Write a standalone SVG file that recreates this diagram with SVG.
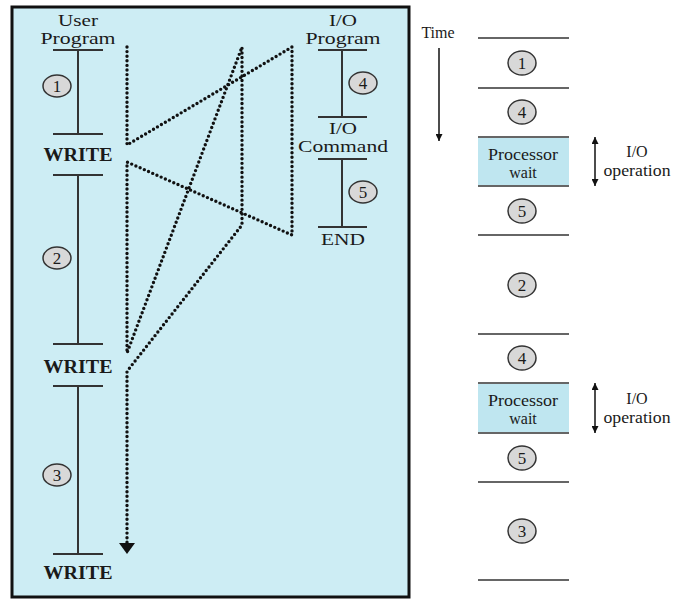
<svg xmlns="http://www.w3.org/2000/svg" width="696" height="608" viewBox="0 0 696 608" font-family="'Liberation Serif', 'Times New Roman', serif">
<defs>
<style>
text{font-family:"Liberation Serif","Times New Roman",serif;fill:#1a1a1a;text-anchor:middle}
.lbl{font-size:17px}
.lb{font-size:18px;font-weight:bold}
.num{font-size:17px}
.sm{font-size:16px}
.bar{stroke:#333;stroke-width:2;fill:none}
.rl{stroke:#666;stroke-width:2}
.dot{stroke:#111;stroke-width:3.4;stroke-linecap:round;stroke-dasharray:0 4.6;fill:none}
.c{fill:#d8d8d8;stroke:#333;stroke-width:1.5}
.ar{stroke:#111;stroke-width:1.5}
</style>
<marker id="ah" viewBox="0 0 10 10" refX="10" refY="5" markerWidth="7" markerHeight="7" orient="auto-start-reverse" markerUnits="userSpaceOnUse">
<path d="M0,0 L10,5 L0,10 z" fill="#111"/>
</marker>
</defs>
<rect width="696" height="608" fill="#fff"/>
<rect x="12" y="7" width="397" height="590" fill="#cdedf4" stroke="#111" stroke-width="3"/>

<g id="user-program">
<text class="lbl" x="78" y="26" textLength="40" lengthAdjust="spacingAndGlyphs">User</text>
<text class="lbl" x="78" y="44" textLength="75" lengthAdjust="spacingAndGlyphs">Program</text>
<line class="bar" x1="53" y1="50" x2="103" y2="50"/>
<line class="bar" x1="78" y1="50" x2="78" y2="134"/>
<line class="bar" x1="53" y1="134" x2="103" y2="134"/>
<text class="lb" x="78" y="161" textLength="69" lengthAdjust="spacingAndGlyphs">WRITE</text>
<line class="bar" x1="53" y1="175" x2="103" y2="175"/>
<line class="bar" x1="78" y1="175" x2="78" y2="344"/>
<line class="bar" x1="53" y1="344" x2="103" y2="344"/>
<text class="lb" x="78" y="373" textLength="69" lengthAdjust="spacingAndGlyphs">WRITE</text>
<line class="bar" x1="53" y1="386" x2="103" y2="386"/>
<line class="bar" x1="78" y1="386" x2="78" y2="554"/>
<line class="bar" x1="53" y1="554" x2="103" y2="554"/>
<text class="lb" x="78" y="579" textLength="69" lengthAdjust="spacingAndGlyphs">WRITE</text>
<ellipse class="c" cx="57" cy="86" rx="14" ry="11"/>
<text class="num" x="57" y="92">1</text>
<ellipse class="c" cx="57" cy="258" rx="14" ry="11"/>
<text class="num" x="57" y="264">2</text>
<ellipse class="c" cx="57" cy="475" rx="14" ry="11"/>
<text class="num" x="57" y="481">3</text>
</g>

<g id="io-program">
<text class="lbl" x="343" y="26" textLength="28" lengthAdjust="spacingAndGlyphs">I/O</text>
<text class="lbl" x="343" y="44" textLength="75" lengthAdjust="spacingAndGlyphs">Program</text>
<line class="bar" x1="318" y1="50" x2="367" y2="50"/>
<line class="bar" x1="342" y1="50" x2="342" y2="117"/>
<line class="bar" x1="318" y1="117" x2="367" y2="117"/>
<text class="lbl" x="343" y="134" textLength="28" lengthAdjust="spacingAndGlyphs">I/O</text>
<text class="lbl" x="343" y="152" textLength="90" lengthAdjust="spacingAndGlyphs">Command</text>
<line class="bar" x1="318" y1="159" x2="367" y2="159"/>
<line class="bar" x1="342" y1="159" x2="342" y2="227"/>
<line class="bar" x1="318" y1="227" x2="367" y2="227"/>
<text class="lbl" x="343" y="245" textLength="44" lengthAdjust="spacingAndGlyphs">END</text>
<ellipse class="c" cx="363" cy="83" rx="14" ry="11"/>
<text class="num" x="363" y="89">4</text>
<ellipse class="c" cx="363" cy="192" rx="14" ry="11"/>
<text class="num" x="363" y="198">5</text>
</g>

<g id="connectors">
<polyline class="dot" points="127,47 127,145 292,47 292,235 127,162 127,353 242,47 242,225 128,370 127,372 127,544"/>
<path d="M119,543 L135,543 L127,554 z" fill="#111"/>
</g>

<g id="time-axis">
<text class="sm" x="438" y="38">Time</text>
<line class="ar" x1="439" y1="48" x2="439" y2="141" marker-end="url(#ah)"/>
</g>

<g id="timeline">
<line class="rl" x1="478" y1="38" x2="569" y2="38"/>
<line class="rl" x1="478" y1="88" x2="569" y2="88"/>
<rect x="478" y="137" width="91" height="49" fill="#bfe6f0"/>
<line class="rl" x1="478" y1="137" x2="569" y2="137"/>
<line class="rl" x1="478" y1="186" x2="569" y2="186"/>
<line class="rl" x1="478" y1="235" x2="569" y2="235"/>
<line class="rl" x1="478" y1="334" x2="569" y2="334"/>
<rect x="478" y="383" width="91" height="50" fill="#bfe6f0"/>
<line class="rl" x1="478" y1="383" x2="569" y2="383"/>
<line class="rl" x1="478" y1="433" x2="569" y2="433"/>
<line class="rl" x1="478" y1="482" x2="569" y2="482"/>
<line class="rl" x1="478" y1="580" x2="569" y2="580"/>
<text class="sm" x="523" y="160" textLength="70" lengthAdjust="spacingAndGlyphs">Processor</text>
<text class="sm" x="523" y="178">wait</text>
<text class="sm" x="523" y="406" textLength="70" lengthAdjust="spacingAndGlyphs">Processor</text>
<text class="sm" x="523" y="424">wait</text>
<ellipse class="c" cx="522" cy="63" rx="14" ry="12"/>
<text class="num" x="522" y="69">1</text>
<ellipse class="c" cx="522" cy="112" rx="14" ry="12"/>
<text class="num" x="522" y="118">4</text>
<ellipse class="c" cx="522" cy="211" rx="14" ry="12"/>
<text class="num" x="522" y="217">5</text>
<ellipse class="c" cx="522" cy="285" rx="14" ry="12"/>
<text class="num" x="522" y="291">2</text>
<ellipse class="c" cx="522" cy="358" rx="14" ry="12"/>
<text class="num" x="522" y="364">4</text>
<ellipse class="c" cx="522" cy="458" rx="14" ry="12"/>
<text class="num" x="522" y="464">5</text>
<ellipse class="c" cx="522" cy="531" rx="14" ry="12"/>
<text class="num" x="522" y="537">3</text>
</g>

<g id="io-operation-1">
<line class="ar" x1="595" y1="137" x2="595" y2="186" marker-start="url(#ah)" marker-end="url(#ah)"/>
<text class="sm" x="637" y="157">I/O</text>
<text class="sm" x="637" y="176" textLength="67" lengthAdjust="spacingAndGlyphs">operation</text>
</g>
<g id="io-operation-2">
<line class="ar" x1="595" y1="383" x2="595" y2="433" marker-start="url(#ah)" marker-end="url(#ah)"/>
<text class="sm" x="637" y="404">I/O</text>
<text class="sm" x="637" y="423" textLength="67" lengthAdjust="spacingAndGlyphs">operation</text>
</g>
</svg>
